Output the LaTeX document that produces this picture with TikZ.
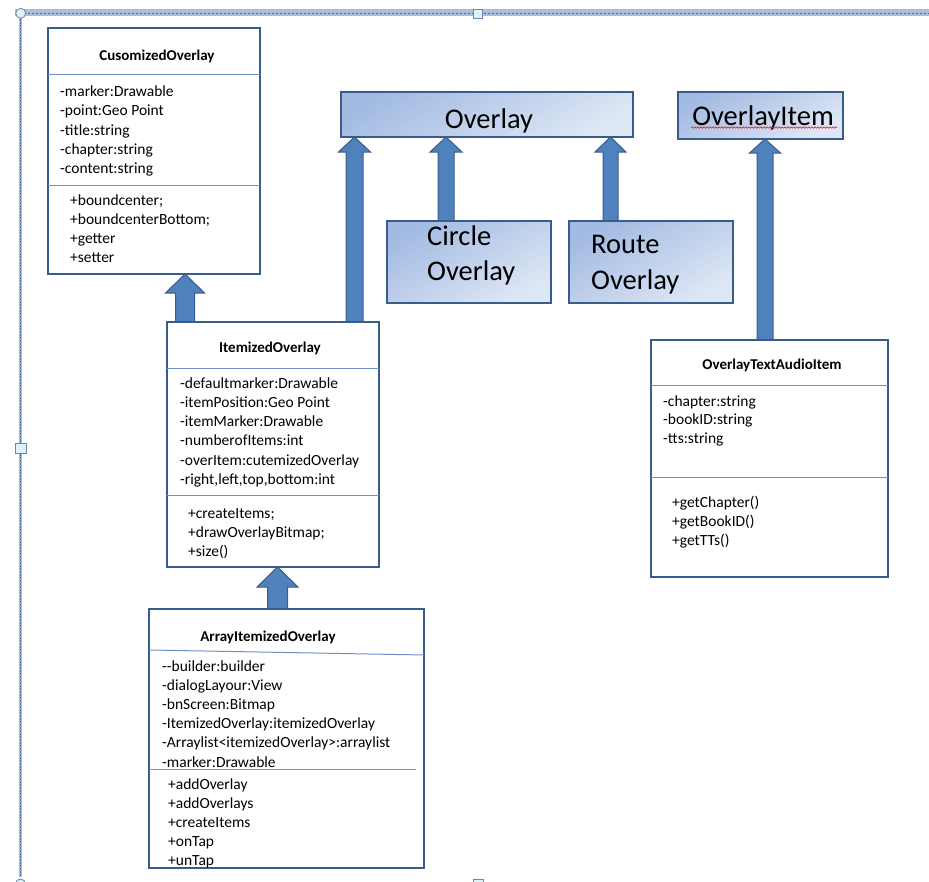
\documentclass[tikz,border=0pt]{standalone}
\usepackage{fontspec}
\setmainfont{Carlito}
\usetikzlibrary{decorations.pathmorphing,backgrounds,calc}
\definecolor{bdr}{HTML}{385D8A}
\definecolor{sepc}{HTML}{6F8FC5}
\definecolor{afill}{HTML}{4F81BD}
\definecolor{gA}{HTML}{A3BBE2}
\definecolor{gB}{HTML}{DEE7F5}
\definecolor{frameA}{HTML}{A9BEDD}
\definecolor{frameB}{HTML}{4A6A9C}
\definecolor{hfill}{HTML}{DCF2F7}
\definecolor{hdraw}{HTML}{6F86A6}
\tikzset{
  umlbox/.style={draw=bdr, line width=1.6pt, fill=white, rectangle, inner sep=0pt, outer sep=0pt},
  gbox/.style={draw=bdr, line width=1.4pt, rectangle, inner sep=0pt, outer sep=0pt,
    top color=gA, bottom color=gB, shading angle=30},
  attr/.style={anchor=west, inner sep=0pt, text height=10pt, text depth=0pt,
    font=\fontsize{15.5}{19}\selectfont},
  ttl/.style={anchor=center, inner sep=0pt, text height=10pt, text depth=0pt,
    font=\fontsize{15}{18}\selectfont\bfseries},
  big/.style={inner sep=0pt, text height=18pt, text depth=0pt,
    font=\fontsize{28.5}{34}\selectfont},
  sepline/.style={draw=sepc, line width=1pt},
  barrow/.style={fill=afill, draw=bdr, line width=1pt, line join=miter},
  handle/.style={fill=hfill, draw=hdraw, line width=0.8pt}
}
% #1 x, #2 lower node anchor, #3 upper node anchor, #4 shaft half, #5 head half, #6 head length
\newcommand\blockarrow[6]{%
  \draw[barrow] let \p1=(#2), \p2=(#3) in
    (#1pt-#4pt,\y1) -- (#1pt-#4pt,\y2-#6pt) -- (#1pt-#5pt,\y2-#6pt) -- (#1pt,\y2)
    -- (#1pt+#5pt,\y2-#6pt) -- (#1pt+#4pt,\y2-#6pt) -- (#1pt+#4pt,\y1) -- cycle;}
\begin{document}
\begin{tikzpicture}[x=1pt,y=-1pt]
\useasboundingbox (0,0) rectangle (929,881);
% frame
\draw[frameA, line width=6.5pt] (15,12.7) -- (929,12.7);
\draw[frameB, line width=1.6pt, dash pattern=on 2pt off 2pt] (20,13.5) -- (929,13.5);
\draw[frameA, line width=3pt] (20.7,13) -- (20.7,877);
\draw[frameB, line width=1.4pt, dash pattern=on 1.5pt off 1.5pt] (20.7,13) -- (20.7,877);
\draw[handle] (20.7,13.3) circle (5);
\draw[handle] (473,9) rectangle (482,18);
\draw[handle] (15.7,443) rectangle (26,453);
\draw[handle] (20.5,884) circle (5);
\draw[handle] (473,879) rectangle (483,888);

% boxes
\node[umlbox, minimum width=212pt, minimum height=246pt] (cus) at (154,151) {};
\node[umlbox, minimum width=212pt, minimum height=245pt] (itm) at (273,444.5) {};
\node[umlbox, minimum width=275pt, minimum height=259pt] (arr) at (286.5,738.5) {};
\node[umlbox, minimum width=237pt, minimum height=237pt] (ota) at (769.5,458.5) {};
\node[gbox, minimum width=292pt, minimum height=45pt] (ovl) at (487,114.5) {};
\node[gbox, minimum width=164pt, minimum height=82pt] (cir) at (469,262) {};
\node[gbox, minimum width=164pt, minimum height=82pt] (rte) at (651,262) {};
\node[gbox, minimum width=165pt, minimum height=47pt] (oit) at (760.5,115.5) {};

% arrows
\begin{pgfonlayer}{background}
\blockarrow{185}{itm.north}{cus.south}{9.5}{19.5}{19}
\blockarrow{354.5}{itm.north}{ovl.south}{8.5}{16}{15}
\blockarrow{446}{cir.north}{ovl.south}{8}{16}{15}
\blockarrow{610.5}{rte.north}{ovl.south}{7.5}{15.5}{15}
\blockarrow{765}{ota.north}{oit.south}{8}{15.5}{14}
\blockarrow{277.5}{arr.north}{itm.south}{10}{20.5}{20}
\end{pgfonlayer}

% gradient box labels
\node[big] (ovlt) at (489,119) {Overlay};
\node[big, anchor=west] (cirt1) at (427,236.5) {Circle};
\node[big, anchor=west] (cirt2) at (427,271.5) {Overlay};
\node[big, anchor=west] (rtet1) at (591,244) {Route};
\node[big, anchor=west] (rtet2) at (591,280) {Overlay};
\node[big] (oitt) at (763,116) {OverlayItem};
\draw[red, line width=0.6pt, decorate, decoration={snake, amplitude=0.7pt, segment length=3pt}]
  (691,127.5) -- (837,127.5);

% CusomizedOverlay
\node[ttl] (cust) at (157,55.5) {CusomizedOverlay};
\draw[sepline] (cus.west |- 0,74.5) -- (cus.east |- 0,74.5);
\draw[sepline] (cus.west |- 0,185.5) -- (cus.east |- 0,185.5);
\foreach \t [count=\i] in {-marker:Drawable,-point:Geo Point,-title:string,-chapter:string,-content:string}
  \node[attr] (cusa\i) at (60,91.5+19.3*\i-19.3) {\t};
\foreach \t [count=\i] in {+boundcenter;,+boundcenterBottom;,+getter,+setter}
  \node[attr] (cusm\i) at (70,200.5+18.9*\i-18.9) {\t};

% ItemizedOverlay
\node[ttl] (itmt) at (270,347) {ItemizedOverlay};
\draw[sepline] (itm.west |- 0,368) -- (itm.east |- 0,368);
\draw[sepline] (itm.west |- 0,495) -- (itm.east |- 0,495);
\foreach \t [count=\i] in {-defaultmarker:Drawable,-itemPosition:Geo Point,-itemMarker:Drawable,-numberofItems:int,-overItem:cutemizedOverlay,{-right,left,top,bottom:int}}
  \node[attr] (itma\i) at (180,383+19.3*\i-19.3) {\t};
\foreach \t [count=\i] in {+createItems;,+drawOverlayBitmap;,+size()}
  \node[attr] (itmm\i) at (188,513+19*\i-19) {\t};

% ArrayItemizedOverlay
\node[ttl] (arrt) at (268,636) {ArrayItemizedOverlay};
\draw[sepline] (arr.west |- 0,650) -- (arr.east |- 0,655);
\draw[sepline] (arr.west |- 0,769) -- (416,769);
\foreach \t [count=\i] in {-{}-builder:builder,-dialogLayour:View,-bnScreen:Bitmap,-ItemizedOverlay:itemizedOverlay,-Arraylist<itemizedOverlay>:arraylist,-marker:Drawable}
  \node[attr] (arra\i) at (162,666+19.2*\i-19.2) {\t};
\foreach \t [count=\i] in {+addOverlay,+addOverlays,+createItems,+onTap,+unTap}
  \node[attr] (arrm\i) at (168,784+19.2*\i-19.2) {\t};

% OverlayTextAudioItem
\node[ttl] (otat) at (772,364) {OverlayTextAudioItem};
\draw[sepline] (ota.west |- 0,385) -- (ota.east |- 0,385);
\draw[sepline] (ota.west |- 0,477) -- (ota.east |- 0,477);
\foreach \t [count=\i] in {-chapter:string,-bookID:string,-tts:string}
  \node[attr] (otaa\i) at (663,401+18.5*\i-18.5) {\t};
\foreach \t [count=\i] in {+getChapter(),+getBookID(),+getTTs()}
  \node[attr] (otam\i) at (672,502+19*\i-19) {\t};
\end{tikzpicture}
\end{document}
